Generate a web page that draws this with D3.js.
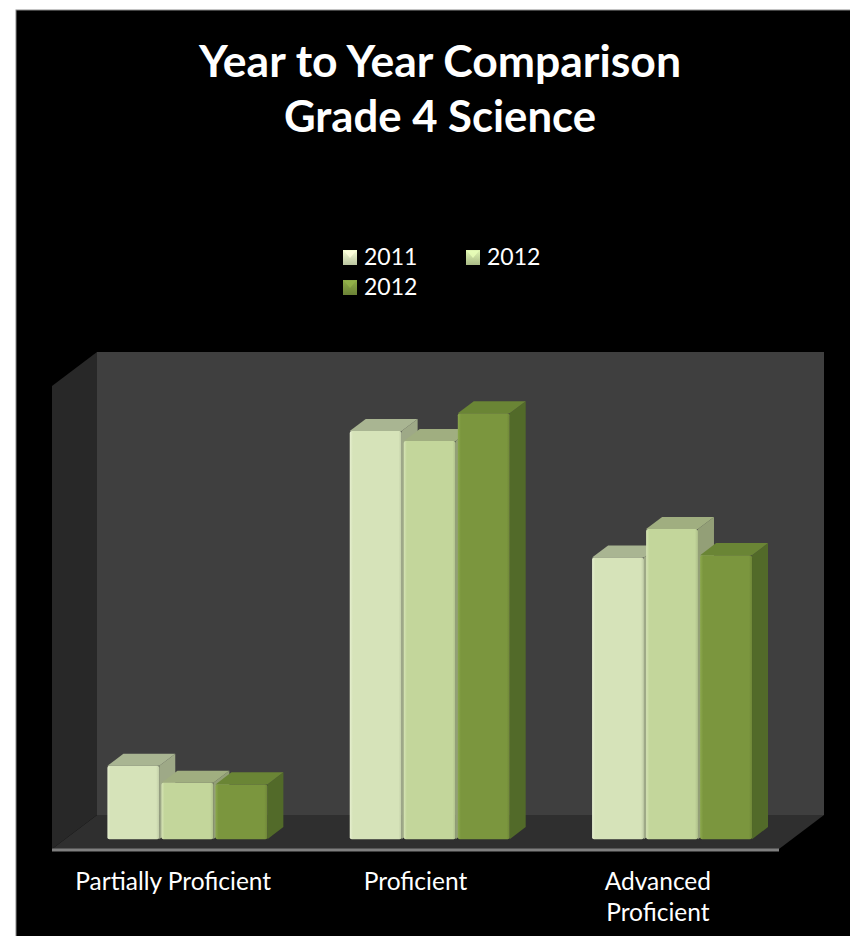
<!DOCTYPE html>
<html>
<head>
<meta charset="utf-8">
<script src="https://cdn.jsdelivr.net/npm/d3@7"></script>
<style>
  html, body { margin: 0; padding: 0; background: #ffffff; }
  svg { display: block; }
</style>
</head>
<body>
<svg id="chart" width="850" height="936"></svg>
<script>
// ---- data ----
const titleLines = ["Year to Year Comparison", "Grade 4 Science"];
const categories = ["Partially Proficient", "Proficient", "Advanced\nProficient"];
const seriesNames = ["2011", "2012", "2012"];
const values2011 = [9.5, 52.9, 36.5];
const values2012a = [7.3, 51.6, 40.2];
const values2012b = [7.1, 55.2, 36.8];
const seriesValues = [values2011, values2012a, values2012b];
const axisMax = 60;

// ---- styles ----
const faceColors = [
  { front: "#d6e3b9", top: "#a9b592", side: "#9ea987", edge: "#e6efd0" },
  { front: "#c3d69b", top: "#a0ae80", side: "#939f77", edge: "#d6e4b5" },
  { front: "#7b963e", top: "#6a8535", side: "#526a29", edge: "#8ba84c" }
];

const svg = d3.select("#chart");

// background panel
svg.append("rect").attr("x", 16).attr("y", 10).attr("width", 840).attr("height", 930)
  .attr("fill", "#000").attr("stroke", "#8a8a8a").attr("stroke-width", 1);

// ---- 3D geometry ----
const depthX = 45, depthY = -34;           // full depth vector
const frontLeft = 52, frontRight = 779, frontBase = 849;
const barT0 = 13 / 45, barT1 = 29 / 45;    // bar front/back depth fractions

const y = d3.scaleLinear().domain([0, axisMax]).range([frontBase, frontBase - 463]);
const x0 = d3.scaleBand().domain(d3.range(categories.length)).range([frontLeft, frontRight]).padding(0);
const bw = x0.bandwidth();
const x1 = d3.scaleBand().domain(d3.range(seriesNames.length))
  .range([bw * 0.175, bw * 0.835]).paddingInner(0.04);

const P = (x, v, t) => [x + depthX * t, y(v) + depthY * t];
const poly = pts => pts.map(p => p.join(",")).join(" ");

const g = svg.append("g");

// left wall
g.append("polygon").attr("points", poly([
  P(frontLeft, 0, 0), P(frontLeft, axisMax, 0), P(frontLeft, axisMax, 1), P(frontLeft, 0, 1)
])).attr("fill", "#282828");

// back wall
g.append("polygon").attr("points", poly([
  P(frontLeft, 0, 1), P(frontLeft, axisMax, 1), P(frontRight, axisMax, 1), P(frontRight, 0, 1)
])).attr("fill", "#3f3f3f");

// floor
g.append("polygon").attr("points", poly([
  P(frontLeft, 0, 0), P(frontRight, 0, 0), P(frontRight, 0, 1), P(frontLeft, 0, 1)
])).attr("fill", "#2f2f2f");

// floor front edge
g.append("line")
  .attr("x1", frontLeft).attr("x2", frontRight)
  .attr("y1", y(0) + 1).attr("y2", y(0) + 1)
  .attr("stroke", "#7f7f7f").attr("stroke-width", 3);

// gradients for front faces
const defs = svg.append("defs");
faceColors.forEach((c, i) => {
  const lg = defs.append("linearGradient").attr("id", "front" + i)
    .attr("x1", "0").attr("x2", "1").attr("y1", "0").attr("y2", "0");
  lg.append("stop").attr("offset", "0").attr("stop-color", c.edge);
  lg.append("stop").attr("offset", "0.06").attr("stop-color", c.front);
  lg.append("stop").attr("offset", "0.94").attr("stop-color", c.front);
  lg.append("stop").attr("offset", "1").attr("stop-color", d3.color(c.front).darker(0.3));
  const kg = defs.append("linearGradient").attr("id", "key" + i)
    .attr("x1", "0").attr("x2", "0").attr("y1", "0").attr("y2", "1");
  kg.append("stop").attr("offset", "0").attr("stop-color", d3.color(c.front).brighter(0.4));
  kg.append("stop").attr("offset", "1").attr("stop-color", d3.color(c.front).darker(0.4));
});

// bars
categories.forEach((cat, ci) => {
  seriesValues.forEach((vals, si) => {
    const v = vals[ci];
    const xl = x0(ci) + x1(si);
    const xr = xl + x1.bandwidth();
    const c = faceColors[si];
    const bar = g.append("g");
    // side
    bar.append("polygon").attr("points", poly([
      P(xr, 0, barT0), P(xr, v, barT0), P(xr, v, barT1), P(xr, 0, barT1)
    ])).attr("fill", c.side);
    // top
    bar.append("polygon").attr("points", poly([
      P(xl, v, barT0), P(xr, v, barT0), P(xr, v, barT1), P(xl, v, barT1)
    ])).attr("fill", c.top);
    // front
    const [fx, fy] = P(xl, v, barT0);
    const [, fb] = P(xl, 0, barT0);
    bar.append("rect").attr("x", fx).attr("y", fy)
      .attr("width", x1.bandwidth()).attr("height", fb - fy)
      .attr("rx", 2)
      .attr("fill", `url(#front${si})`);
  });
});

// category labels
const labelFont = "Lato, 'Open Sans', sans-serif";
categories.forEach((cat, ci) => {
  const lines = cat.split("\n");
  lines.forEach((ln, li) => {
    svg.append("text")
      .attr("x", x0(ci) + bw / 2)
      .attr("y", 890 + li * 31)
      .attr("text-anchor", "middle")
      .attr("font-family", labelFont)
      .attr("font-size", 24.5)
      .attr("fill", "#ffffff")
      .text(ln);
  });
});

// title
const titleY = [77, 132];
const titleW = [482, 312];
titleLines.forEach((t, i) => {
  svg.append("text")
    .attr("x", 440).attr("y", titleY[i])
    .attr("text-anchor", "middle")
    .attr("font-family", labelFont)
    .attr("font-weight", "bold")
    .attr("font-size", 44)
    .attr("fill", "#ffffff")
    .attr("textLength", titleW[i])
    .attr("lengthAdjust", "spacingAndGlyphs")
    .text(t);
});

// legend
const legendPos = [[343, 250], [466, 250], [343, 280]];
seriesNames.forEach((s, i) => {
  const [lx, ly] = legendPos[i];
  const lgI = svg.append("g").attr("transform", `translate(${lx},${ly})`);
  lgI.append("rect").attr("width", 14).attr("height", 15).attr("fill", `url(#key${i})`);
  lgI.append("polygon").attr("points", "1,1 13,1 7,8")
    .attr("fill", d3.color(faceColors[i].front).brighter(0.5)).attr("opacity", 0.8);
  lgI.append("text").attr("x", 21).attr("y", 15)
    .attr("font-family", labelFont).attr("font-size", 23)
    .attr("fill", "#ffffff").text(s);
});
</script>
</body>
</html>
